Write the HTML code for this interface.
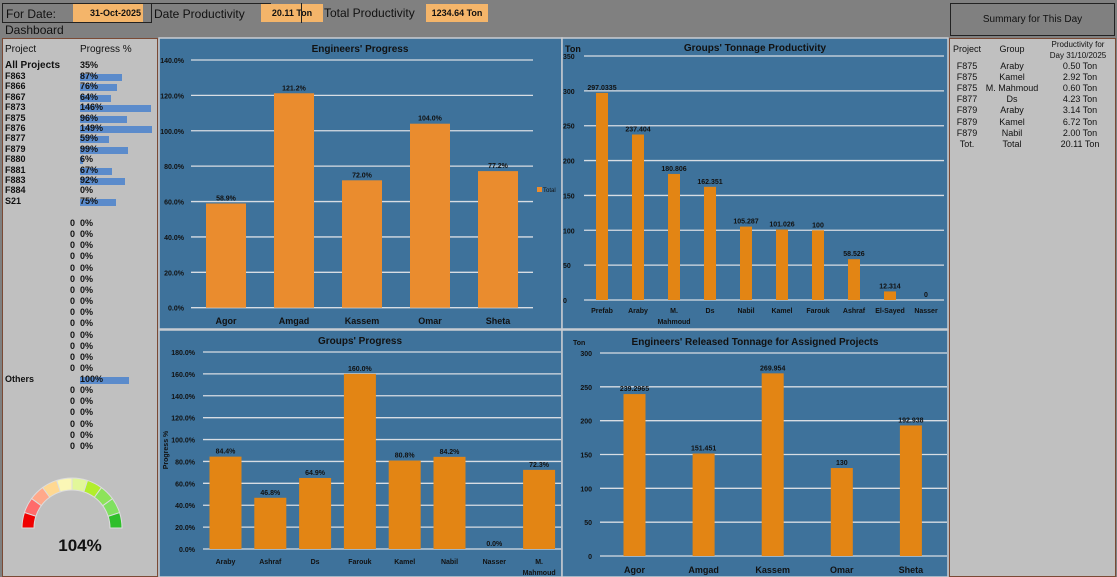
<!DOCTYPE html>
<html><head><meta charset="utf-8">
<style>
*{box-sizing:border-box;margin:0;padding:0}
body{width:1117px;height:577px;overflow:hidden;background:#808080;font-family:"Liberation Sans",sans-serif;position:relative;color:#111}
.abs{position:absolute}
.lbl{font-size:12px;white-space:nowrap}
.org{background:#f4b56a;font-size:9px;font-weight:bold;text-align:center;line-height:18px}
.row{position:absolute;font-size:9px;font-weight:bold;white-space:nowrap}
</style></head><body>
<div class="abs" style="left:0;top:0;width:948px;height:36px">
 <div class="abs lbl" style="left:2px;top:3px;width:150px;height:20px;border:1px solid #222;border-right:none;line-height:20px;padding-left:3px">For Date:</div>
 <div class="abs org" style="left:73px;top:4px;width:70px;height:18px;text-align:right;padding-right:2px">31-Oct-2025</div>
 <div class="abs lbl" style="left:151px;top:3px;width:42px;height:20px;border:1px solid #222;border-right:none;border-bottom:none;line-height:20px;padding-left:2px;width:120px">Date Productivity</div>
 <div class="abs org" style="left:261px;top:4px;width:62px;height:18px">20.11 Ton</div>
 <div class="abs lbl" style="left:301px;top:3px;width:120px;height:20px;border-left:1px solid #222;line-height:20px;padding-left:22px;width:125px">Total Productivity</div>
 <div class="abs org" style="left:426px;top:4px;width:62px;height:18px">1234.64 Ton</div>
 <div class="abs lbl" style="left:5px;top:23px">Dashboard</div>
</div>

<div class="abs" style="left:2px;top:38px;width:156px;height:539px;background:#c0c0c0;border:1px solid #7a4a35">
</div>
<div id="leftrows"></div>

<svg class="abs" style="left:0;top:470px" width="158" height="107" id="gauge">
 <text x="80" y="81" text-anchor="middle" font-size="17" font-weight="bold" font-family="Liberation Sans" fill="#111">104%</text>
</svg>

<div class="abs" style="left:950px;top:3px;width:165px;height:33px;border:1px solid #222;background:#808080;font-size:10px;text-align:center;line-height:32px">Summary for This Day</div>
<div class="abs" style="left:949px;top:38px;width:167px;height:539px;background:#c0c0c0;border:1px solid #7a4a35"></div>
<div id="sumrows"></div>

<svg class="abs" id="charts" style="left:0;top:0" width="1117" height="577"></svg>

<script>
// ---------- left panel data ----------
const projNames=["F863","F866","F867","F873","F875","F876","F877","F879","F880","F881","F883","F884","S21"];
const projProgress=[87,76,64,146,96,149,59,99,6,67,92,0,75];
const othersProgress=[100];
const lr=document.getElementById('leftrows');
function addRow(y,name,val,bar,nameX){
  const a=document.createElement('div');a.className='row';
  
  
  a.style.left=(nameX||5)+'px';a.style.top=(y-6)+'px';a.textContent=name;lr.appendChild(a);
  if(bar){const b=document.createElement('div');b.className='abs';
  
  
  b.style.cssText=`left:80px;top:${y-3}px;width:${val*0.485}px;height:7px;background:#5b8bcb`;lr.appendChild(b);}
  const c=document.createElement('div');c.className='row';
  
  
  c.style.left='80px';c.style.top=(y-6)+'px';c.textContent=val+'%';lr.appendChild(c);
}
{const h=document.createElement('div');h.className='row';h.style.cssText='left:5px;top:44px;font-weight:normal;font-size:10px';h.textContent='Project';

lr.appendChild(h);
const h2=document.createElement('div');h2.className='row';h2.style.cssText='left:80px;top:44px;font-weight:normal;font-size:10px';h2.textContent='Progress %';

lr.appendChild(h2);}
addRow(66,'All Projects',35,false);
lr.lastChild.previousSibling.style.fontSize='10px';
projNames.forEach((n,i)=>addRow(77+i*10.4,n,projProgress[i],projProgress[i]>0));
for(let i=0;i<14;i++)addRow(224+i*11.15,'0',0,false,70);
addRow(380,'Others',othersProgress[0],true);
for(let i=0;i<6;i++)addRow(391+i*11.2,'0',0,false,70);

// ---------- gauge ----------
const gaugeColors=["#f00000","#ff6b6b","#ffa88a","#ffd891","#fbf7b6","#e2f79a","#b2ee2c","#8de35a","#80e060","#2fbf2b"];
const gs=document.getElementById('gauge'),NS='http://www.w3.org/2000/svg';
{const cx=72,cy=58,R=50,r=38;
gaugeColors.forEach((c,i)=>{const a0=Math.PI*(1-i/10),a1=Math.PI*(1-(i+1)/10);
 const p=`M${cx+R*Math.cos(a0)},${cy-R*Math.sin(a0)} A${R},${R} 0 0 1 ${cx+R*Math.cos(a1)},${cy-R*Math.sin(a1)} L${cx+r*Math.cos(a1)},${cy-r*Math.sin(a1)} A${r},${r} 0 0 0 ${cx+r*Math.cos(a0)},${cy-r*Math.sin(a0)}Z`;
 const e=document.createElementNS(NS,'path');e.setAttribute('d',p);e.setAttribute('fill',c);e.setAttribute('stroke','#ddd');e.setAttribute('stroke-width','1');
 
 
 gs.insertBefore(e,gs.firstChild);});}

// ---------- summary ----------
const sumProj=["F875","F875","F875","F877","F879","F879","F879","Tot."];
const sumGroup=["Araby","Kamel","M. Mahmoud","Ds","Araby","Kamel","Nabil","Total"];
const sumVal=["0.50 Ton","2.92 Ton","0.60 Ton","4.23 Ton","3.14 Ton","6.72 Ton","2.00 Ton","20.11 Ton"];
const sr=document.getElementById('sumrows');
function sc(x,y,t,name,fs,anchor){const d=document.createElement('div');d.className='row';
 
 
 d.style.cssText=`left:${x-40}px;width:80px;text-align:center;top:${y-6}px;font-weight:normal;font-size:${fs||9}px;line-height:11px`;d.innerHTML=t;sr.appendChild(d);}
sc(967,50,'Project','summary-project-header');sc(1012,50,'Group','summary-group-header');
sc(1078,45,'Productivity for<br>Day 31/10/2025','summary-productivity-header',8);
sumProj.forEach((p,i)=>{const y=67+i*11.1;sc(967,y,p,'summary-project');sc(1012,y,sumGroup[i],'summary-group');sc(1080,y,sumVal[i],'summary-productivity');});

// ---------- charts data ----------
const engNames=["Agor","Amgad","Kassem","Omar","Sheta"];
const engProgress=[58.9,121.2,72.0,104.0,77.2];
const engProgressTicks=[0,20,40,60,80,100,120,140];
const grpNames=["Prefab","Araby","M.|Mahmoud","Ds","Nabil","Kamel","Farouk","Ashraf","El-Sayed","Nasser"];
const grpTonnage=[297.0335,237.404,180.806,162.351,105.287,101.026,100,58.526,12.314,0];
const grpTonnageTicks=[0,50,100,150,200,250,300,350];
const grpPNames=["Araby","Ashraf","Ds","Farouk","Kamel","Nabil","Nasser","M.|Mahmoud"];
const grpProgress=[84.4,46.8,64.9,160.0,80.8,84.2,0.0,72.3];
const grpProgressTicks=[0,20,40,60,80,100,120,140,160,180];
const engTonnage=[239.2965,151.451,269.954,130,192.938];
const engTonnageTicks=[0,50,100,150,200,250,300];

const svg=document.getElementById('charts');
function el(tag,attrs,text){const e=document.createElementNS(NS,tag);for(const k in attrs)e.setAttribute(k,attrs[k]);if(text!==undefined)e.textContent=text;svg.appendChild(e);return e;}
function chart(o){
  const bg=el('rect',{x:o.px,y:o.py,width:o.pw,height:o.ph,fill:'#3e729b',stroke:'#c8ccd2','stroke-width':1.5});
  
  
  const t=el('text',{x:o.tx,y:o.ty,'text-anchor':'middle','font-size':o.tfs||10,'font-weight':'bold',fill:'#111'},o.title);
  
  
  const max=o.ticks[o.ticks.length-1];
  const yS=v=>o.y0-(v/max)*(o.y0-o.y1);
  const xS=i=>o.c0+i*o.step;
  o.ticks.forEach(v=>{
    const g=el('line',{x1:o.gx0,x2:o.gx1,y1:yS(v),y2:yS(v),stroke:'#d8dde3','stroke-width':1.3});
    
    
    const tl=el('text',{x:o.tickX,y:yS(v)+3,'text-anchor':o.tickAnchor||'end','font-size':7,'font-weight':'bold',fill:'#111'},o.fmt(v));
    
    
  });
  o.vals.forEach((v,i)=>{
    const b=el('rect',{x:xS(i)-o.bw/2,y:yS(v),width:o.bw,height:o.y0-yS(v),fill:o.color||'#e38514'});
    
    
    const l=el('text',{x:xS(i),y:yS(v)-3,'text-anchor':'middle','font-size':7,'font-weight':'bold',fill:'#111'},o.lfmt(v));
    
    
    const parts=o.cats[i].split('|');
    parts.forEach((p,k)=>{const c=el('text',{x:xS(i)+(o.catShift&&parts.length>1?0:0),y:o.catY+k*11,'text-anchor':'middle','font-size':o.cfs||7,'font-weight':'bold',fill:'#111'},p);
      
      });
  });
}
chart({name:'engineers-progress',px:159,py:38,pw:403,ph:291,title:"Engineers' Progress",tx:360,ty:52,
 ticks:engProgressTicks,y0:307.7,y1:60,gx0:191,gx1:533,tickX:184,fmt:v=>v.toFixed(1)+'%',
 vals:engProgress,cats:engNames,c0:226,step:68,bw:40,lfmt:v=>v.toFixed(1)+'%',catY:324,cfs:9,color:'#ea8c2e'});
{const lg=el('rect',{x:537,y:187,width:5,height:5,fill:'#ea8c2e'});
const lt=el('text',{x:543,y:192,'font-size':6,fill:'#111'},'Total');}

chart({name:'groups-tonnage',px:562,py:38,pw:386,ph:291,title:"Groups' Tonnage Productivity",tx:755,ty:51,
 ticks:grpTonnageTicks,y0:300,y1:56,gx0:584,gx1:944,tickX:563,tickAnchor:'start',fmt:v=>String(v),
 vals:grpTonnage,cats:grpNames,c0:602,step:36,bw:12,lfmt:v=>String(v),catY:313});
{const t=el('text',{x:565,y:52,'font-size':9,'font-weight':'bold',fill:'#111'},'Ton');}

chart({name:'groups-progress',px:159,py:330,pw:403,ph:247,title:"Groups' Progress",tx:360,ty:344,
 ticks:grpProgressTicks,y0:549,y1:352,gx0:203,gx1:561,tickX:195,fmt:v=>v.toFixed(1)+'%',
 vals:grpProgress,cats:grpPNames,c0:225.5,step:44.8,bw:32,lfmt:v=>v.toFixed(1)+'%',catY:564});
{const t=el('text',{x:168,y:450,'font-size':7,'font-weight':'bold',fill:'#111','text-anchor':'middle',transform:'rotate(-90 168 450)'},'Progress %');}

chart({name:'engineers-released-tonnage',px:562,py:330,pw:386,ph:247,title:"Engineers' Released Tonnage for Assigned Projects",tx:755,ty:345,tfs:10,
 ticks:engTonnageTicks,y0:556,y1:353,gx0:600,gx1:947,tickX:592,fmt:v=>String(v),
 vals:engTonnage,cats:engNames,c0:634.5,step:69.1,bw:22,lfmt:v=>String(v),catY:573,cfs:9});
{const t=el('text',{x:573,y:345,'font-size':7,'font-weight':'bold',fill:'#111'},'Ton');}
</script>
</body></html>
